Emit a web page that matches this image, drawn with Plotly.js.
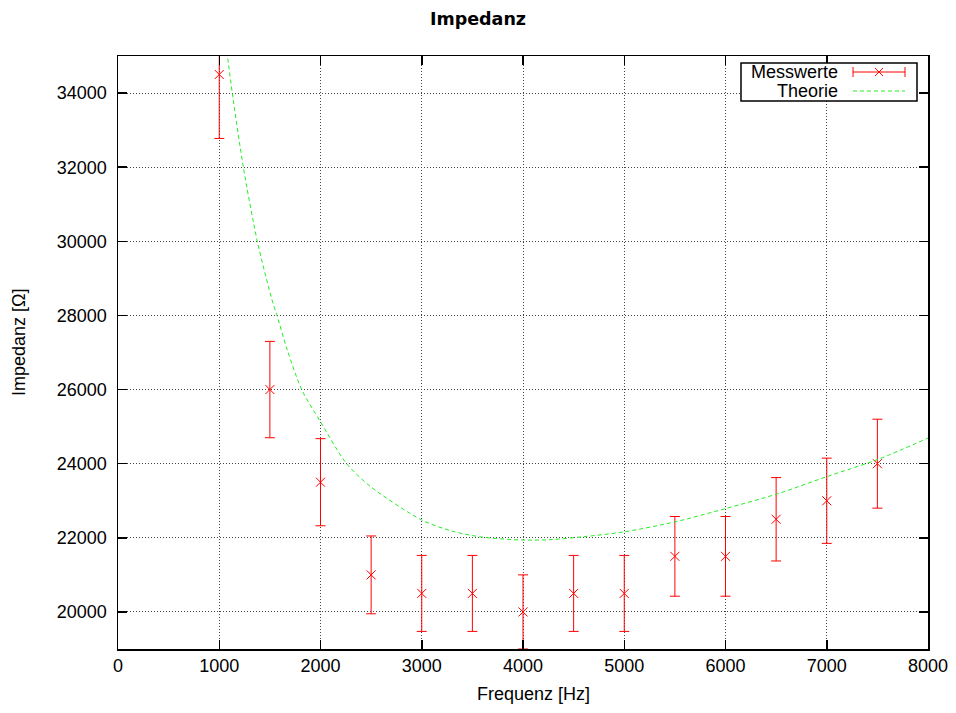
<!DOCTYPE html>
<html>
<head>
<meta charset="utf-8">
<script src="https://cdn.plot.ly/plotly-3.0.1.min.js"></script>
<style>html,body{margin:0;padding:0;background:#fff;}#chart{width:956px;height:713px;}</style>
</head>
<body>
<div id="chart"></div>
<script>
// Measured values
const freq = [1000, 1500, 2000, 2500, 3000, 3500, 4000, 4500, 5000, 5500, 6000, 6500, 7000, 7500];
const impedance = [34500, 26000, 23500, 21000, 20500, 20500, 20000, 20500, 20500, 21500, 21500, 22500, 23000, 24000];
const impedanceErr = [1725, 1300, 1175, 1050, 1025, 1025, 1000, 1025, 1025, 1075, 1075, 1125, 1150, 1200];

// Theory curve
const theoFreq = [1060, 1080, 1129, 1238, 1376, 1521, 1570, 1672, 1814, 2000, 2258, 2500, 3000, 3300, 3608, 4003, 4267, 4596, 4998, 5501, 6002, 6505, 6999, 7510, 8000];
const theoZ =    [35300, 35000, 34000, 32000, 30000, 28420, 28000, 27070, 26000, 25130, 24000, 23370, 22480, 22180, 22015, 21940, 21950, 22030, 22160, 22430, 22790, 23180, 23650, 24120, 24690];

const xTicks = [0, 1000, 2000, 3000, 4000, 5000, 6000, 7000, 8000];
const yTicks = [20000, 22000, 24000, 26000, 28000, 30000, 32000, 34000];

const W = 956, H = 713, L = 118, R = 28, T = 56, B = 64;
const pw = W - L - R, ph = H - T - B;
const px = v => (v - L) / pw;
const py = v => (H - B - v) / ph;

const red = '#ff0000', green = '#22ee22';

const traces = [
  {
    x: freq, y: impedance, type: 'scatter', mode: 'markers', name: 'Messwerte',
    marker: {symbol: 'x-thin', size: 9, line: {color: red, width: 1}, color: red},
    error_y: {type: 'data', array: impedanceErr, visible: true, color: red, thickness: 1, width: 5},
    showlegend: false, cliponaxis: true
  },
  {
    x: theoFreq, y: theoZ, type: 'scatter', mode: 'lines', name: 'Theorie',
    line: {color: green, width: 1, dash: '4px,3px', shape: 'spline', smoothing: 0.8},
    showlegend: false
  }
];

const font = {family: 'Liberation Sans, Arial, sans-serif', size: 18, color: '#000'};

const axisCommon = {
  showline: true, linecolor: '#000', linewidth: 1.5, mirror: 'ticks',
  ticks: 'inside', ticklen: 9, tickwidth: 1.5, tickcolor: '#000',
  showgrid: true, gridcolor: '#444', gridwidth: 1, griddash: '1px,2px',
  zeroline: false, tickfont: font
};

const shapes = [
  // legend box
  {type: 'rect', xref: 'paper', yref: 'paper', x0: px(741), x1: px(917), y0: py(101), y1: py(63),
   line: {color: '#000', width: 1.5}, fillcolor: '#fff', layer: 'above'},
  // Messwerte sample
  {type: 'line', xref: 'paper', yref: 'paper', x0: px(853), x1: px(905), y0: py(72), y1: py(72), line: {color: red, width: 1}, layer: 'above'},
  {type: 'line', xref: 'paper', yref: 'paper', x0: px(853), x1: px(853), y0: py(67), y1: py(77), line: {color: red, width: 1}, layer: 'above'},
  {type: 'line', xref: 'paper', yref: 'paper', x0: px(905), x1: px(905), y0: py(67), y1: py(77), line: {color: red, width: 1}, layer: 'above'},
  {type: 'line', xref: 'paper', yref: 'paper', x0: px(875), x1: px(883), y0: py(68), y1: py(76), line: {color: red, width: 1}, layer: 'above'},
  {type: 'line', xref: 'paper', yref: 'paper', x0: px(875), x1: px(883), y0: py(76), y1: py(68), line: {color: red, width: 1}, layer: 'above'},
  // Theorie sample
  {type: 'line', xref: 'paper', yref: 'paper', x0: px(853), x1: px(905), y0: py(91), y1: py(91), line: {color: green, width: 1, dash: '4px,3px'}, layer: 'above'}
];

const annotations = [
  {xref: 'paper', yref: 'paper', x: px(840), y: py(72), xanchor: 'right', yanchor: 'middle', text: 'Messwerte', showarrow: false, font: font},
  {xref: 'paper', yref: 'paper', x: px(840), y: py(91), xanchor: 'right', yanchor: 'middle', text: 'Theorie', showarrow: false, font: font},
  // axis titles
  {xref: 'paper', yref: 'paper', x: px(533), y: py(694), xanchor: 'center', yanchor: 'middle', text: 'Frequenz [Hz]', showarrow: false, font: font},
  {xref: 'paper', yref: 'paper', x: px(19), y: py(342), xanchor: 'center', yanchor: 'middle', text: 'Impedanz [Ω]', textangle: -90, showarrow: false, font: font}
];

const layout = {
  width: W, height: H,
  margin: {l: L, r: R, t: T, b: B, pad: 0},
  paper_bgcolor: '#fff', plot_bgcolor: '#fff',
  font: font,
  title: {text: '<b>Impedanz</b>', x: 0.5, xref: 'container', xanchor: 'center', y: 1 - 19 / H, yref: 'container', yanchor: 'middle',
          font: {family: 'DejaVu Sans, sans-serif', size: 17.5, color: '#000'}},
  xaxis: Object.assign({}, axisCommon, {
    range: [0, 8000], tickvals: xTicks, ticktext: xTicks.map(String)
  }),
  yaxis: Object.assign({}, axisCommon, {
    range: [19000, 35000], tickvals: yTicks, ticktext: yTicks.map(String), ticklabelstandoff: 6
  }),
  shapes: shapes,
  annotations: annotations,
  showlegend: false
};

Plotly.newPlot('chart', traces, layout, {displayModeBar: false, staticPlot: true});
</script>
</body>
</html>
